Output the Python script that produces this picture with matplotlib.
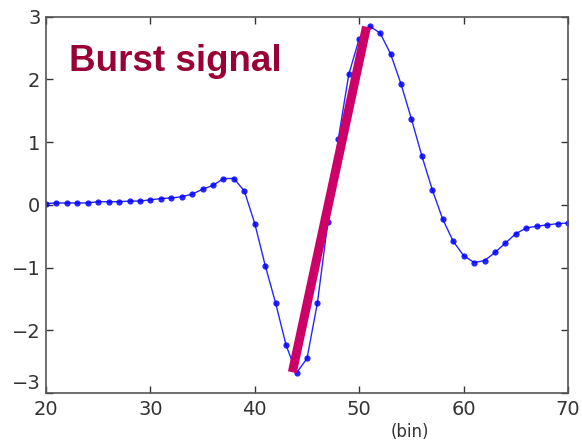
import matplotlib
matplotlib.use("Agg")
import matplotlib.pyplot as plt

bins = list(range(20, 71))
signal = [0.02, 0.03, 0.03, 0.03, 0.03, 0.05, 0.05, 0.05, 0.06, 0.06,
          0.08, 0.10, 0.11, 0.13, 0.17, 0.25, 0.31, 0.42, 0.42, 0.22,
          -0.30, -0.97, -1.57, -2.24, -2.68, -2.45, -1.56, -0.27, 1.05, 2.08,
          2.65, 2.85, 2.74, 2.41, 1.93, 1.37, 0.78, 0.24, -0.23, -0.58,
          -0.81, -0.92, -0.89, -0.76, -0.61, -0.46, -0.37, -0.34, -0.32, -0.30,
          -0.29]
slope_x = [43.6, 50.7]
slope_y = [-2.67, 2.84]
xticks = [20, 30, 40, 50, 60, 70]
yticks = [-3, -2, -1, 0, 1, 2, 3]
ytick_labels = ["\u22123", "\u22122", "\u22121", "0", "1", "2", "3"]

fig = plt.figure(figsize=(5.82, 4.41), dpi=100)
ax = fig.add_axes([0.079, 0.109, 0.897, 0.853])

ax.plot(bins, signal, color="#0000FF", lw=1.0, marker="o", ms=4.5,
        markeredgewidth=0, alpha=0.85)
ax.plot(slope_x, slope_y, color="#CC0066", lw=6.5, solid_capstyle="butt")

ax.set_xlim(20, 70)
ax.set_ylim(-3, 3)
ax.set_xticks(xticks)
ax.set_yticks(yticks)
ax.set_yticklabels(ytick_labels)
ax.tick_params(direction="in", length=5, width=1, top=True, right=True,
               labelsize=14, colors="#333333", pad=4)
ax.tick_params(axis="x", pad=5)
ax.get_yticklabels()[0].set_verticalalignment("bottom")
for s in ax.spines.values():
    s.set_color("#555555")
    s.set_linewidth(1.2)

ax.text(0.045, 0.855, "Burst signal", transform=ax.transAxes,
        fontsize=26.5, fontweight="bold", color="#990033",
        fontfamily="Liberation Sans", va="baseline", ha="left")
fig.text(410 / 582, 1 - 432 / 441, "(bin)", fontsize=12, color="#333333",
         ha="center", va="center")

fig.savefig("out.png", dpi=100)
